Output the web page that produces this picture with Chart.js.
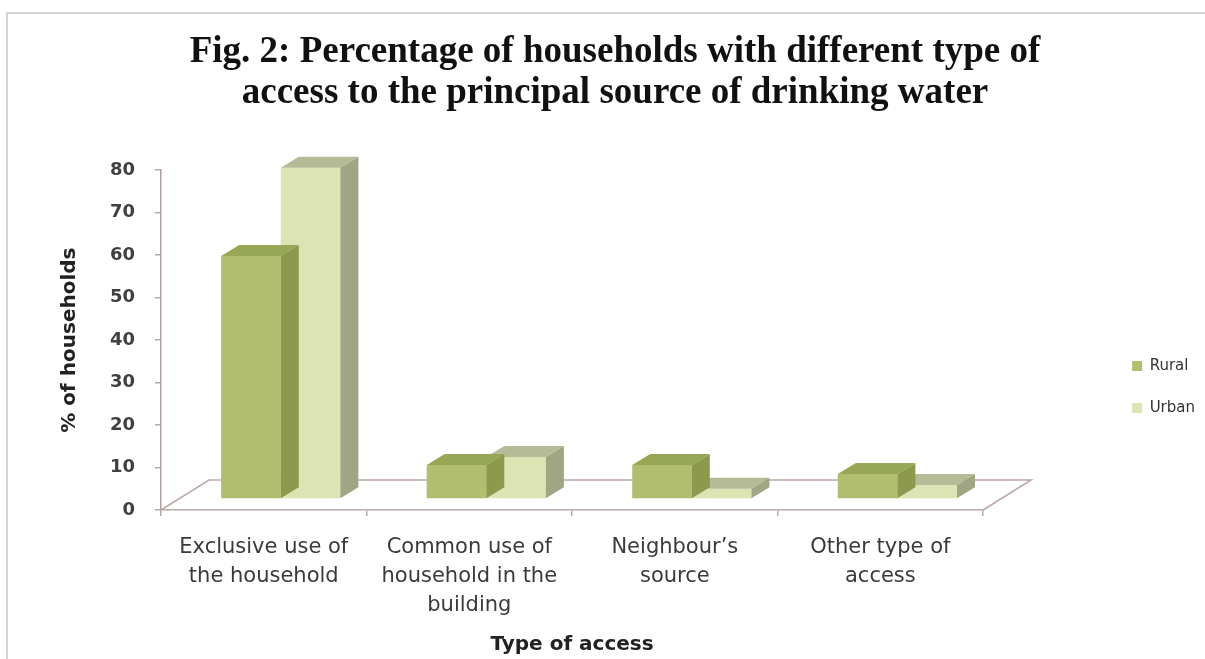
<!DOCTYPE html>
<html>
<head>
<meta charset="utf-8">
<script src="https://cdn.jsdelivr.net/npm/chart.js@4/dist/chart.umd.min.js"></script>
<style>
  html, body { margin: 0; padding: 0; background: #fff; overflow: hidden; }
  #moldura { position: absolute; left: 6px; top: 12px; width: 1400px; height: 800px;
             border-top: 2px solid #d8d2d2; border-left: 2px solid #d8d2d2; }
  #grafico { position: absolute; left: 0; top: 0; }
</style>
</head>
<body>
<div id="moldura"></div>
<canvas id="grafico" width="1205" height="659"></canvas>
<script>
// categorias e valores (% de domicílios)
const categorias = [
  ['Exclusive use of', 'the household'],
  ['Common use of', 'household in the', 'building'],
  ['Neighbour\u2019s', 'source'],
  ['Other type of', 'access']
];
const rural = [57.2, 8.0, 8.0, 5.9];
const urbano = [78.0, 9.9, 2.4, 3.3];
const eixoY = { min: 0, max: 80, passo: 10 };

// deslocamentos da perspectiva (x, y em px)
const chao = [48, -30];      // profundidade do piso
const recuo = [17, -11];     // recuo das barras dentro do piso
const espessura = [18, -11]; // profundidade das barras

const corEixo = '#bda8a8';

function poligono(ctx, pts) {
  ctx.beginPath();
  ctx.moveTo(pts[0][0], pts[0][1]);
  for (let i = 1; i < pts.length; i++) ctx.lineTo(pts[i][0], pts[i][1]);
  ctx.closePath();
  ctx.fill();
}

// desenha o piso e as faces de cima/lado das colunas
const barras3d = {
  id: 'barras3d',
  beforeDatasetsDraw(chart) {
    const { ctx, chartArea: { left, right, bottom } } = chart;
    ctx.save();
    ctx.strokeStyle = corEixo;
    ctx.lineWidth = 1.5;
    ctx.beginPath();
    ctx.moveTo(left, bottom);
    ctx.lineTo(left + chao[0], bottom + chao[1]);
    ctx.lineTo(right + chao[0], bottom + chao[1]);
    ctx.lineTo(right, bottom);
    ctx.stroke();
    ctx.restore();
  },
  beforeDatasetDraw(chart) {
    chart.ctx.save();
    chart.ctx.translate(recuo[0], recuo[1]);
  },
  afterDatasetDraw(chart, args) {
    const ctx = chart.ctx;
    const ds = chart.data.datasets[args.index];
    const [fx, fy] = espessura;
    args.meta.data.forEach((barra) => {
      const { x, y, base, width } = barra.getProps(['x', 'y', 'base', 'width'], true);
      const x0 = x - width / 2, x1 = x + width / 2;
      ctx.fillStyle = ds.corTopo;
      poligono(ctx, [[x0, y], [x1, y], [x1 + fx, y + fy], [x0 + fx, y + fy]]);
      ctx.fillStyle = ds.corLado;
      poligono(ctx, [[x1, y], [x1 + fx, y + fy], [x1 + fx, base + fy], [x1, base]]);
    });
    ctx.restore();
  }
};

const ctx = document.getElementById('grafico');

new Chart(ctx, {
  type: 'bar',
  plugins: [barras3d],
  data: {
    labels: categorias,
    datasets: [
      {
        label: 'Rural',
        data: rural,
        backgroundColor: '#b1bd6f',
        corTopo: '#97a756',
        corLado: '#8b9a4d',
        clip: false,
        categoryPercentage: 0.58,
        barPercentage: 1
      },
      {
        label: 'Urban',
        data: urbano,
        backgroundColor: '#dce4b4',
        corTopo: '#b5ba97',
        corLado: '#a0a683',
        clip: false,
        categoryPercentage: 0.58,
        barPercentage: 1
      }
    ]
  },
  options: {
    responsive: false,
    animation: false,
    devicePixelRatio: 1,
    layout: { padding: { left: 25, right: 0, top: 0, bottom: 0 } },
    plugins: {
      title: {
        display: true,
        text: ['Fig. 2: Percentage of households with different type of',
               'access to the principal source of drinking water'],
        color: '#111',
        font: { family: 'Liberation Serif', size: 37, weight: 'bold', lineHeight: 1.11 },
        padding: { top: 32, bottom: 56 }
      },
      legend: {
        position: 'right',
        // título vazio só para baixar os itens da legenda
        title: { display: true, text: '', font: { size: 15 }, padding: { top: 48, bottom: 49 } },
        labels: {
          boxWidth: 10,
          boxHeight: 10,
          padding: 27,
          color: '#333',
          font: { family: 'DejaVu Sans', size: 15 }
        }
      },
      tooltip: { enabled: false }
    },
    scales: {
      x: {
        grid: { drawOnChartArea: false, drawTicks: true, tickLength: 6, color: corEixo, lineWidth: 1.5 },
        border: { color: corEixo, width: 1.5 },
        ticks: {
          color: '#3a3a3a',
          padding: 17,
          maxRotation: 0,
          autoSkip: false,
          font: { family: 'DejaVu Sans', size: 21, lineHeight: 1.38 }
        },
        title: {
          display: true,
          text: 'Type of access',
          color: '#222',
          font: { family: 'DejaVu Sans', size: 20, weight: 'bold' },
          padding: { top: 0, bottom: 2 }
        },
        afterFit(s) { s.height = 149; }
      },
      y: {
        min: eixoY.min,
        max: eixoY.max,
        grid: { drawOnChartArea: false, drawTicks: true, tickLength: 6, color: corEixo, lineWidth: 1.5 },
        border: { color: '#ad9e9e', width: 1.5 },
        ticks: {
          stepSize: eixoY.passo,
          color: '#404040',
          padding: 20,
          font: { family: 'DejaVu Sans', size: 18, weight: 'bold' }
        },
        title: {
          display: true,
          text: '% of households',
          color: '#222',
          font: { family: 'DejaVu Sans', size: 20, weight: 'bold' },
          padding: { top: 33, bottom: 0 }
        },
        afterFit(s) { s.width = 136; }
      },
      // espaço vazio entre o piso e a legenda
      folga: {
        type: 'linear',
        position: 'right',
        grid: { display: false },
        border: { display: false },
        ticks: { display: false },
        afterFit(s) { s.width = 122; }
      }
    }
  }
});
</script>
</body>
</html>
